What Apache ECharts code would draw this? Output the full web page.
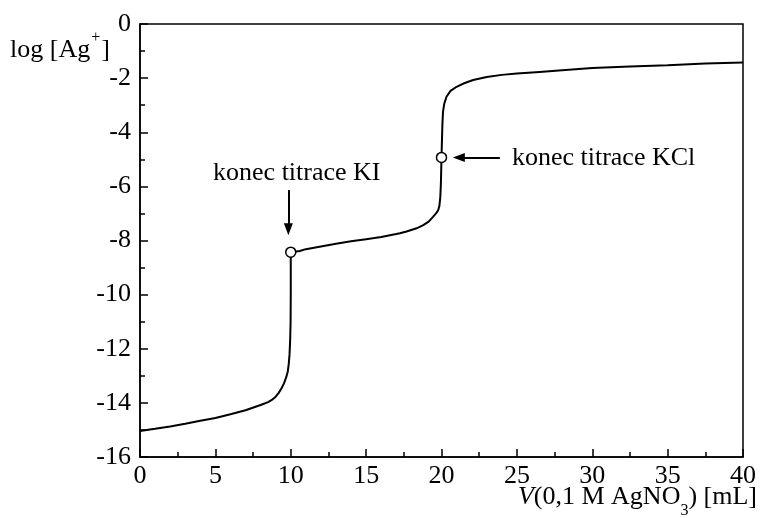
<!DOCTYPE html>
<html><head><meta charset="utf-8">
<script src="https://cdn.jsdelivr.net/npm/echarts@6/dist/echarts.min.js"></script>
<style>html,body{margin:0;padding:0;background:#fff}#c{width:760px;height:518px}</style>
</head><body><div id="c"></div>
<script>
// Titration curve: [V (mL), log [Ag+]]
var curveX = [0,1,2,3,4,5,6,7,8,8.5,8.8,9,9.2,9.4,9.55,9.7,9.8,9.87,9.92,9.96,9.99,10,10,
  10.6,11,12,13,14,15,16,17,17.24,17.68,18.35,18.79,19.15,19.45,19.65,19.78,19.86,19.92,19.96,20,20.03,20.06,20.1,20.18,20.33,20.6,21,21.5,22.1,23,24,25,26.5,28,30,32.5,35,37.5,40];
var curveY = [-15.04,-14.96,-14.87,-14.77,-14.66,-14.56,-14.42,-14.27,-14.08,-13.97,-13.87,-13.77,-13.63,-13.45,-13.28,-13.05,-12.85,-12.55,-12.2,-11.7,-11.0,-10.0,-8.43,
  -8.39,-8.32,-8.22,-8.12,-8.03,-7.95,-7.87,-7.76,-7.73,-7.67,-7.55,-7.43,-7.3,-7.12,-6.99,-6.88,-6.72,-6.4,-5.9,-4.93,-4.3,-3.7,-3.25,-2.95,-2.69,-2.47,-2.32,-2.19,-2.07,-1.96,-1.88,-1.83,-1.77,-1.71,-1.63,-1.57,-1.52,-1.46,-1.42];
// Endpoints (open circles)
var endX = [10, 20];
var endY = [-8.43, -4.93];
var endLabels = ['konec titrace KI', 'konec titrace KCl'];

var FONT = "'Liberation Serif','DejaVu Serif',serif";
var curve = curveX.map(function(x,i){return [x, curveY[i]];});
var ends = endX.map(function(x,i){return [x, endY[i]];});

var chart = echarts.init(document.getElementById('c'), null, {renderer:'canvas'});
chart.setOption({
  animation:false,
  backgroundColor:'#fff',
  grid:{left:140, right:17, top:24, bottom:61, show:true, borderColor:'#000', borderWidth:1.5, containLabel:false},
  xAxis:{type:'value', min:0, max:40, interval:5,
    axisLine:{show:true, onZero:false, lineStyle:{color:'#000', width:1.5}},
    axisTick:{show:true, inside:true, length:8, lineStyle:{color:'#000', width:1.5}},
    minorTick:{show:true, splitNumber:2, length:5, lineStyle:{color:'#000', width:1.5}},
    splitLine:{show:false},
    axisLabel:{color:'#000', fontFamily:FONT, fontSize:26, margin:6}
  },
  yAxis:{type:'value', min:-16, max:0, interval:2,
    axisLine:{show:true, onZero:false, lineStyle:{color:'#000', width:1.5}},
    axisTick:{show:true, inside:true, length:8, lineStyle:{color:'#000', width:1.5}},
    minorTick:{show:true, splitNumber:2, length:5, lineStyle:{color:'#000', width:1.5}},
    splitLine:{show:false},
    axisLabel:{color:'#000', fontFamily:FONT, fontSize:26, margin:9}
  },
  graphic:[
    {type:'text', left:10, top:30, style:{
      text:'{a|log [Ag}{s|+}{a|]}', fontFamily:FONT, fill:'#000',
      rich:{a:{fontSize:26, fontFamily:FONT, verticalAlign:'top', padding:[7,0,0,0]},
            s:{fontSize:16, fontFamily:FONT, verticalAlign:'top', padding:[0,1,0,1]}}}},
    {type:'text', right:3, top:484, style:{
      text:'{i|V}{a|(0,1 M AgNO}{b|3}{a|) [mL]}', fontFamily:FONT, fill:'#000',
      rich:{i:{fontSize:26, fontStyle:'italic', fontFamily:FONT, verticalAlign:'top'},
            a:{fontSize:26, fontFamily:FONT, verticalAlign:'top'},
            b:{fontSize:16, fontFamily:FONT, verticalAlign:'top', padding:[19,0,0,0]}}}}
  ],
  series:[
    {type:'line', data:curve, showSymbol:false, smooth:false, z:2,
      lineStyle:{color:'#000', width:2},
      markLine:{silent:true, symbol:['none','triangle'], symbolSize:[9,12],
        lineStyle:{color:'#000', width:2, type:'solid'}, label:{show:false},
        data:[
          [{coord:[9.84,-6.13]},{coord:[9.84,-7.58]}],
          [{coord:[23.87,-4.93]},{coord:[21.15,-4.93]}]
        ]},
      markPoint:{silent:true, symbol:'circle', symbolSize:0,
        label:{show:true, color:'#000', fontFamily:FONT, fontSize:26},
        data:[
          {coord:[10.4,-5.51], value:endLabels[0], label:{formatter:endLabels[0], position:'inside'}},
          {coord:[24.67,-4.95], value:endLabels[1], label:{formatter:endLabels[1], position:'right', distance:0}}
        ]}
    },
    {type:'scatter', data:ends, symbol:'circle', symbolSize:10, z:5,
      itemStyle:{color:'#fff', opacity:1, borderColor:'#000', borderWidth:1.5}}
  ]
});
</script></body></html>
